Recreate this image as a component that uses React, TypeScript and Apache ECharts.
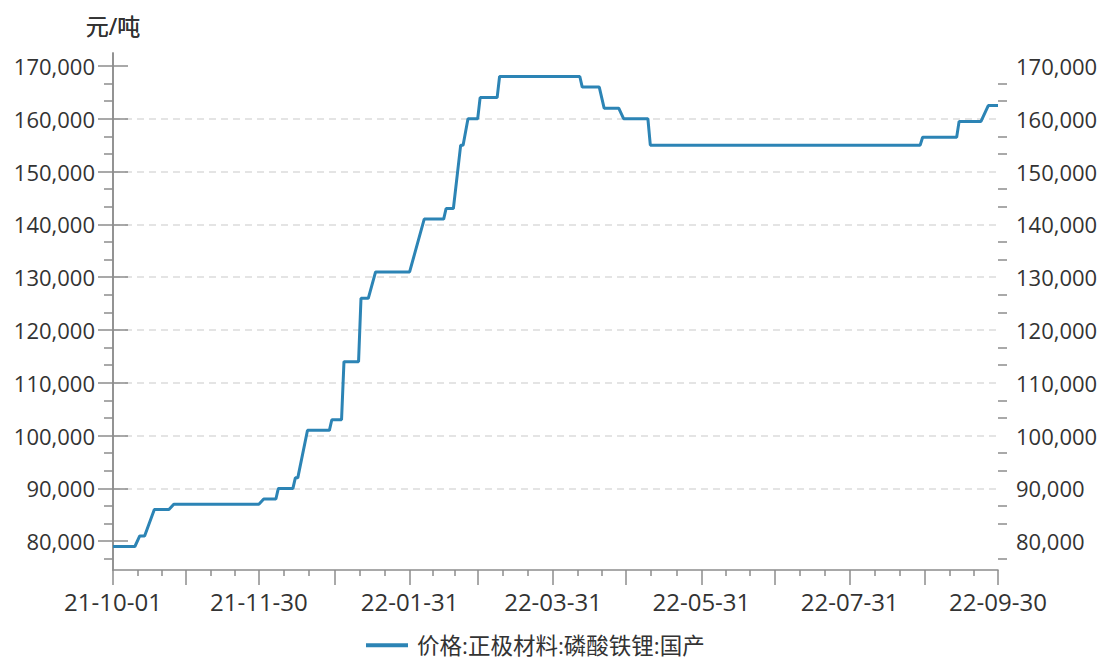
import React, { useEffect, useRef } from "react";
import * as echarts from "echarts";

const seriesName = "价格:正极材料:磷酸铁锂:国产";
const unitName = "元/吨";

const dates = [
  "2021-10-01", "2021-10-10", "2021-10-12", "2021-10-14", "2021-10-18", "2021-10-24",
  "2021-10-26", "2021-11-30", "2021-12-02", "2021-12-07", "2021-12-08", "2021-12-14",
  "2021-12-15", "2021-12-16", "2021-12-20", "2021-12-29", "2021-12-30", "2022-01-03",
  "2022-01-04", "2022-01-10", "2022-01-11", "2022-01-14", "2022-01-17", "2022-01-31",
  "2022-02-06", "2022-02-14", "2022-02-15", "2022-02-18", "2022-02-21", "2022-02-22",
  "2022-02-24", "2022-02-28", "2022-03-01", "2022-03-08", "2022-03-09", "2022-04-11",
  "2022-04-12", "2022-04-19", "2022-04-21", "2022-04-27", "2022-04-29", "2022-05-09",
  "2022-05-10", "2022-08-29", "2022-08-30", "2022-09-13", "2022-09-14", "2022-09-23",
  "2022-09-26", "2022-09-30",
];

const prices = [
  79000, 79000, 81000, 81000, 86000, 86000,
  87000, 87000, 88000, 88000, 90000, 90000,
  92000, 92000, 101000, 101000, 103000, 103000,
  114000, 114000, 126000, 126000, 131000, 131000,
  141000, 141000, 143000, 143000, 155000, 155000,
  160000, 160000, 164000, 164000, 168000, 168000,
  166000, 166000, 162000, 162000, 160000, 160000,
  155000, 155000, 156500, 156500, 159500, 159500,
  162500, 162500,
];

const xTickLabels = ["21-10-01", "21-11-30", "22-01-31", "22-03-31", "22-05-31", "22-07-31", "22-09-30"];
const monthMarks = [
  "2021-10-01", "2021-10-31", "2021-11-30", "2021-12-31", "2022-01-31", "2022-02-28",
  "2022-03-31", "2022-04-30", "2022-05-31", "2022-06-30", "2022-07-31", "2022-08-31", "2022-09-30",
];
const yTickValues = [80000, 90000, 100000, 110000, 120000, 130000, 140000, 150000, 160000, 170000];
const yMin = 74550;
const yMax = 172450;

const START = Date.UTC(2021, 9, 1);
function dayIndex(s: string): number {
  const [y, m, d] = s.split("-").map(Number);
  return Math.round((Date.UTC(y, m - 1, d) - START) / 86400000);
}

export default function App() {
  const ref = useRef<HTMLDivElement>(null);
  useEffect(() => {
    if (!ref.current) return;
    const chart = echarts.init(ref.current, null, { renderer: "svg" });

    const data = dates.map((d, i) => [dayIndex(d), prices[i]]);
    const labelDays = xTickLabels.map((l) => dayIndex("20" + l));
    const labelMap: Record<number, string> = {};
    labelDays.forEach((d, i) => (labelMap[d] = xTickLabels[i]));
    const majorDays = monthMarks.map(dayIndex);
    const minorDays: number[] = [];
    for (let i = 0; i < majorDays.length - 1; i++) {
      const a = majorDays[i], b = majorDays[i + 1];
      minorDays.push(a + (b - a) / 3, a + (2 * (b - a)) / 3);
    }
    const yMinor: number[] = [];
    const yStep = 10000 / 3;
    for (let v = yTickValues[0] - yStep; v < yMax; v += yStep) {
      if (v < yMin) continue;
      if (Math.abs(Math.round(v / 10000) * 10000 - v) < 1) continue;
      yMinor.push(v);
    }

    const font = "'Open Sans', 'Noto Sans CJK SC', sans-serif";
    const axisColor = "#8c8c8c";
    const textColor = "#333333";
    const lineColor = "#2c84b5";

    const mainY = (pos: "left" | "right") => ({
      type: "value",
      position: pos,
      min: yMin,
      max: yMax,
      name: unitName,
      nameLocation: "end",
      nameGap: 16,
      nameTextStyle: { color: textColor, fontSize: 23, fontFamily: font, align: "center" },
      axisLine: { show: true, lineStyle: { color: axisColor, width: 1.5 } },
      axisTick: { show: true, length: 15, customValues: yTickValues, lineStyle: { color: axisColor, width: 1.5 } },
      axisLabel: {
        customValues: yTickValues,
        margin: 18,
        color: textColor,
        fontSize: 22,
        fontFamily: font,
        formatter: (v: number) => v.toLocaleString("en-US"),
      },
      splitLine: {
        show: pos === "left",
        showMinLine: false,
        showMaxLine: false,
        lineStyle: { color: "#dcdcdc", type: [7, 5], width: 1.5 },
      },
    });
    const minorY = (pos: "left" | "right") => ({
      type: "value",
      position: pos,
      min: yMin,
      max: yMax,
      axisLine: { show: false },
      axisTick: { show: true, length: 9, customValues: yMinor, lineStyle: { color: axisColor, width: 1.5 } },
      axisLabel: { show: false },
      splitLine: { show: false },
    });

    chart.setOption({
      animation: false,
      backgroundColor: "#ffffff",
      grid: { left: 113, right: 105, top: 53, bottom: 90, containLabel: false },
      legend: {
        data: [{ name: seriesName, icon: "rect" }],
        left: 366,
        top: 634,
        padding: 0,
        itemWidth: 42,
        itemHeight: 4,
        itemGap: 10,
        textStyle: { color: textColor, fontSize: 22.5, lineHeight: 20, fontFamily: font, padding: [0, 0, 0, 4] },
      },
      xAxis: [
        {
          type: "value",
          position: "bottom",
          min: 0,
          max: 364,
          axisLine: { show: true, lineStyle: { color: axisColor, width: 1.5 } },
          axisTick: { show: true, length: 15, customValues: majorDays, lineStyle: { color: axisColor, width: 1.5 } },
          axisLabel: {
            customValues: labelDays,
            margin: 19,
            color: textColor,
            fontSize: 24,
            fontFamily: font,
            formatter: (v: number) => labelMap[Math.round(v)] ?? "",
          },
          splitLine: { show: false },
        },
        {
          type: "value",
          position: "bottom",
          min: 0,
          max: 364,
          axisLine: { show: false },
          axisTick: { show: true, length: 6, customValues: minorDays, lineStyle: { color: axisColor, width: 1.5 } },
          axisLabel: { show: false },
          splitLine: { show: false },
        },
      ],
      yAxis: [mainY("left"), mainY("right"), minorY("left"), minorY("right")],
      series: [
        {
          name: seriesName,
          type: "line",
          xAxisIndex: 0,
          yAxisIndex: 0,
          data,
          showSymbol: false,
          symbol: "none",
          lineStyle: { color: lineColor, width: 3 },
          itemStyle: { color: lineColor },
        },
      ],
    });
    return () => chart.dispose();
  }, []);
  return <div ref={ref} style={{ width: 1103, height: 660, position: "fixed", left: 0, top: 0 }} />;
}
